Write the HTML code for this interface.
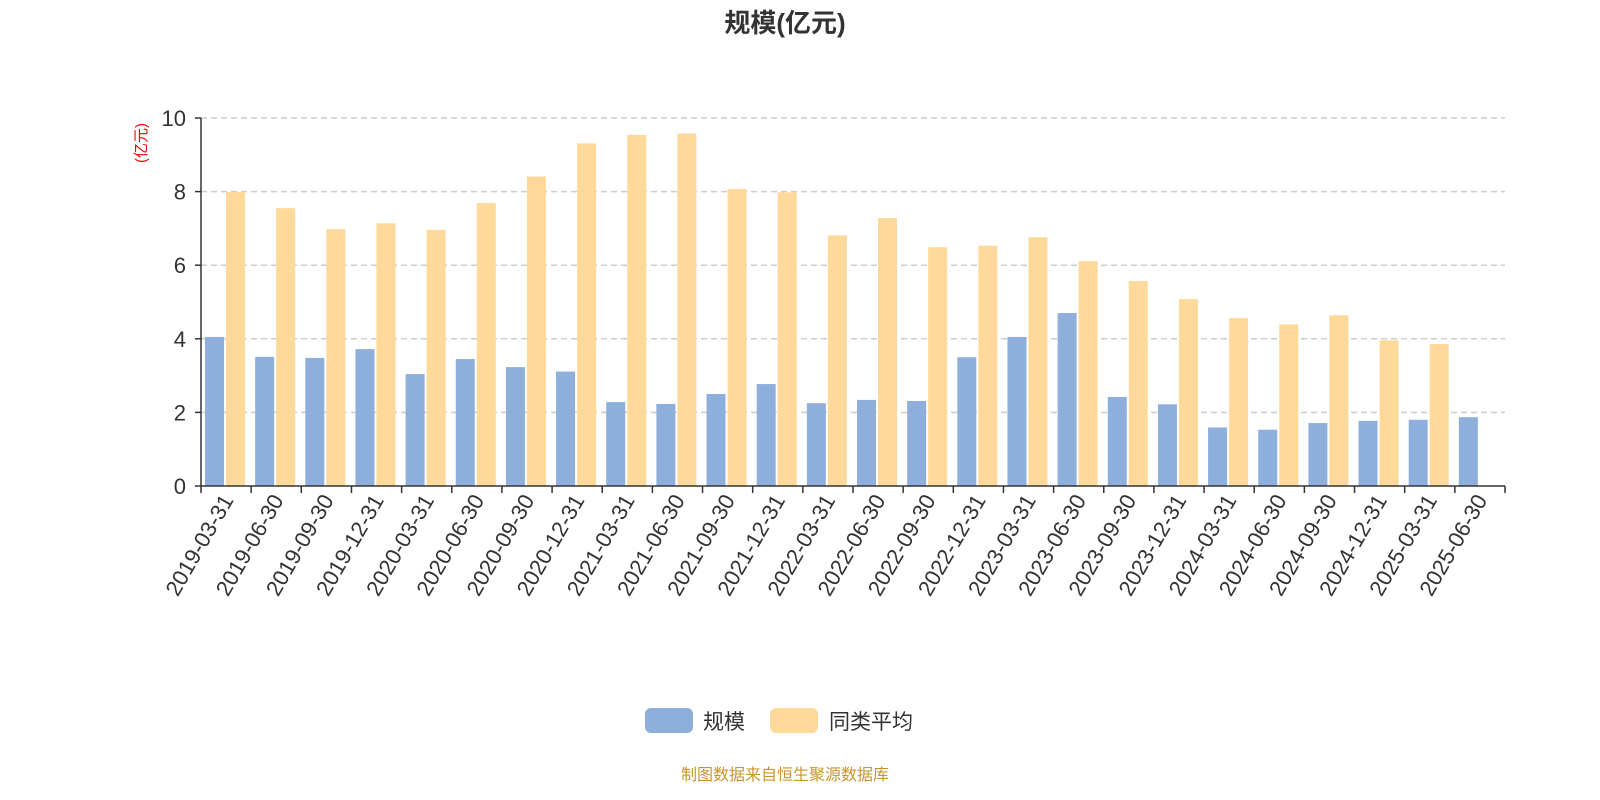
<!DOCTYPE html>
<html><head><meta charset="utf-8"><style>
html,body{margin:0;padding:0;background:#fff;}
svg{display:block;font-family:"Liberation Sans","Noto Sans CJK SC",sans-serif;}
</style></head><body>
<svg id="chart" width="1600" height="800" viewBox="0 0 1600 800">
<text x="785" y="32" text-anchor="middle" font-size="26" font-weight="bold" fill="#333">规模(亿元)</text>
<text transform="translate(146,143) rotate(-90)" text-anchor="middle" font-size="15" fill="#e00">(亿元)</text>
<g id="grid"></g>
<g id="bars"></g>
<g id="axes"></g>
<g>
<rect x="645" y="708" width="48" height="25" rx="6" fill="#8eaedc"/>
<text x="703" y="729" font-size="21" fill="#333">规模</text>
<rect x="770" y="708" width="48" height="25" rx="6" fill="#ffd999"/>
<text x="829" y="729" font-size="21" fill="#333">同类平均</text>
</g>
<text x="785" y="780" text-anchor="middle" font-size="16" fill="#c8952a">制图数据来自恒生聚源数据库</text>
</svg>
<script>
const categories=["2019-03-31","2019-06-30","2019-09-30","2019-12-31","2020-03-31","2020-06-30","2020-09-30","2020-12-31","2021-03-31","2021-06-30","2021-09-30","2021-12-31","2022-03-31","2022-06-30","2022-09-30","2022-12-31","2023-03-31","2023-06-30","2023-09-30","2023-12-31","2024-03-31","2024-06-30","2024-09-30","2024-12-31","2025-03-31","2025-06-30"];
const scaleValues=[4.05,3.51,3.48,3.72,3.04,3.45,3.23,3.11,2.28,2.23,2.50,2.77,2.25,2.34,2.31,3.50,4.05,4.70,2.42,2.22,1.59,1.53,1.71,1.77,1.80,1.87];
const avgValues=[7.99,7.55,6.98,7.14,6.96,7.69,8.41,9.31,9.54,9.58,8.07,7.98,6.81,7.28,6.49,6.53,6.76,6.11,5.57,5.08,4.56,4.39,4.64,3.96,3.86,null];
const yTicks=[0,2,4,6,8,10];
const NS="http://www.w3.org/2000/svg";
const X0=201,X1=1505,Y0=486,Y1=118,YMAX=10;
const band=(X1-X0)/categories.length;
function y(v){return Y0-(v/YMAX)*(Y0-Y1);}
function xb(i){return X0+i*band;}
function mk(tag,attrs,parent){const e=document.createElementNS(NS,tag);for(const k in attrs)e.setAttribute(k,attrs[k]);parent.appendChild(e);return e;}
const grid=document.getElementById('grid'),bars=document.getElementById('bars'),axes=document.getElementById('axes');
yTicks.forEach(t=>{
  if(t>0){const l=mk('line',{x1:X0,x2:X1,y1:y(t),y2:y(t),stroke:'#ccc','stroke-dasharray':'6,4','stroke-width':1.5},grid);
  
  }
  const tx=mk('text',{x:186,y:y(t)+8,'text-anchor':'end','font-size':22,fill:'#333'},axes);
  tx.textContent=t;
  
  
  const tk=mk('line',{x1:195,x2:X0,y1:y(t),y2:y(t),stroke:'#333','stroke-width':1.5},axes);
  
  
});
const bw=19;
categories.forEach((c,i)=>{
  const x=xb(i);
  const v=scaleValues[i];
  const b=mk('rect',{x:x+4,y:y(v),width:bw,height:Y0-y(v),fill:'#8eaedc'},bars);
  
  
  const a=avgValues[i];
  if(a!=null){const r=mk('rect',{x:x+4+bw+2,y:y(a),width:bw,height:Y0-y(a),fill:'#ffd999'},bars);
  
  }
  const tk=mk('line',{x1:x,x2:x,y1:Y0,y2:Y0+7,stroke:'#333','stroke-width':1.5},axes);
  
  
  const cx=x+band/2;
  const lb=mk('text',{transform:`translate(${cx+8},${Y0+14}) rotate(-60)`,'text-anchor':'end','font-size':22,fill:'#333'},axes);
  lb.textContent=c;
  
  
});
const last=mk('line',{x1:X1,x2:X1,y1:Y0,y2:Y0+7,stroke:'#333','stroke-width':1.5},axes);


const xa=mk('line',{x1:X0,x2:X1,y1:Y0,y2:Y0,stroke:'#333','stroke-width':1.5},axes);


const ya=mk('line',{x1:X0,x2:X0,y1:Y1,y2:Y0,stroke:'#333','stroke-width':1.5},axes);


</script>
</body></html>
